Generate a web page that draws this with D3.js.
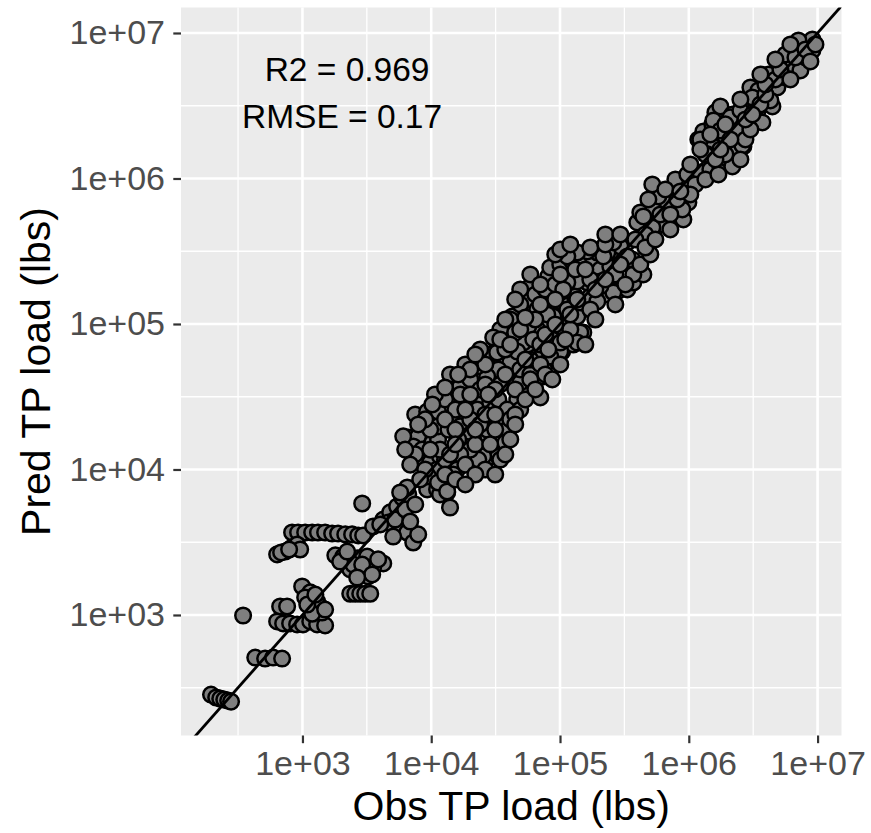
<!DOCTYPE html>
<html>
<head>
<meta charset="utf-8">
<script src="https://cdn.jsdelivr.net/npm/d3@7/dist/d3.min.js"></script>
<style>
  body { margin: 0; background: #fff; }
  svg { display: block; }
  text { font-family: "Liberation Sans", Arial, Helvetica, sans-serif; }
</style>
</head>
<body>
<script>
const obsLoad = [
  195, 214, 230, 247, 265, 279, 430, 513, 592, 695,
  346, 671, 760, 636, 708, 802, 909, 1010, 1150, 1300,
  1500, 995, 1150, 1050, 1300, 1370, 1420, 1190, 2350, 2570,
  2810, 3070, 3360, 1800, 2070, 2660, 3180, 4240, 2350, 2960,
  3240, 3540, 2480, 831, 925, 1050, 1190, 1320, 1500, 1700,
  1890, 2150, 2430, 2710, 2960, 636, 734, 831, 909, 960,
  2910, 3540, 4240, 4800, 4630, 5440, 5950, 6630, 5740, 6510,
  7250, 5070, 9300, 11100, 13300, 14000, 11700, 7510, 9300, 11300,
  6630, 7920, 7250, 8510, 10200, 11300, 8210, 9820, 11700, 11100,
  14600, 15900, 11300, 13600, 14600, 14600, 16800, 17700, 22800, 19000,
  16800, 20100, 24000, 18400, 27700, 32500, 28700, 33200, 25300, 23200,
  38900, 37600, 27200, 22800, 28700, 33200, 46600, 38900, 70300, 58800,
  74100, 49100, 41100, 33200, 27200, 22800, 28700, 31400, 42600, 46600,
  55700, 66600, 79600, 95200, 104000, 84000, 126800, 124500, 151600, 113900,
  88700, 79600, 66600, 56700, 55700, 46600, 42600, 56700, 58800, 79600,
  66600, 100500, 113900, 136200, 143700, 131500, 171900, 162900, 136200, 113900,
  100500, 81100, 84000, 100500, 124500, 151600, 181300, 205600, 245800, 259400,
  205600, 232900, 278500, 333100, 370900, 351600, 294000, 333100, 268900, 245800,
  194800, 162900, 136200, 113900, 259400, 194800, 9480, 11300, 14800, 6510,
  6060, 13300, 5740, 12800, 15400, 20100, 24000, 16200, 20100, 26300,
  34400, 41100, 49100, 34400, 20100, 24000, 16800, 12800, 9820, 10700,
  14000, 18400, 24000, 34400, 41100, 49100, 64300, 76900, 91900, 49100,
  58800, 51800, 100500, 88700, 143700, 44900, 79600, 100500, 120200, 136200,
  100500, 62000, 46600, 32500, 30300, 58800, 84000, 106000, 171900, 136200,
  443600, 370900, 268900, 205600, 502800, 398400, 634400, 420500, 530500, 681300,
  364300, 294000, 232900, 520900, 907300, 992400, 891000, 814700, 580200, 520900,
  443600, 786700, 974400, 1230000, 1471000, 1759000, 2030000, 2220000, 2654000, 2384000,
  1924000, 1552000, 1394000, 1186000, 1298000, 1524000, 1609000, 1759000, 2180000, 2302000,
  2851000, 3409000, 3727000, 4458000, 2180000, 1230000, 1346000, 1552000, 1759000, 2180000,
  2607000, 2104000, 2516000, 3292000, 3009000, 3472000, 4152000, 4875000, 5630000, 4966000,
  6376000, 7360000, 6492000, 7765000, 9117000, 7102000, 9117000, 4303000, 3117000, 259400,
  333100, 216900, 5630000, 8050000, 91900,
  8980, 12800, 15400, 11700, 14000, 22000, 28700, 31400, 26300, 18400,
  16800, 20100, 26300, 31400, 37600, 44900, 53800, 58800, 70300, 53800,
  37600, 26300, 20100, 34400, 41100, 49100, 70300, 76900, 64300, 91900,
  109900, 120200, 70300, 91900, 49100, 58800, 70300, 100500, 131500, 157200,
  188100, 224900, 294000, 420500, 502800, 100500, 120200, 171900, 224900, 321600,
  268900, 171900, 188100, 157200, 76900, 44900, 31400, 22000, 15400, 9820,
  7510, 6870, 8980, 12800, 18400, 22000, 31400, 37600, 41100, 44900,
  15400, 18400, 8210, 6280, 7920, 10200, 12800, 16200, 27700, 22000,
  37600, 44900, 53800, 81100, 100500, 64300, 87100,
  1125000, 1346000, 1698000, 1924000, 1609000, 2753000, 3009000, 1924000, 2753000, 3598000,
  3936000, 2516000, 4708000, 3936000, 5146000, 6154000, 6733000, 8050000, 9627000, 8800000,
  6154000, 4708000, 3598000, 3117000, 2104000, 1471000, 1230000, 1028000, 1759000, 2516000,
  601300, 719100, 485300, 1028000, 657800, 860000, 460000, 719100, 224900, 294000,
  384700, 460000, 550100,
  1963, 2224, 2910, 3870, 3480, 2660, 1090, 1260, 1500, 683,
  788, 4020, 5250, 6280, 7510, 7920, 6870
]
const predLoad = [
  284, 271, 266, 262, 258, 254, 510, 502, 510, 502,
  992, 1144, 1144, 903, 875, 875, 861, 861, 903, 861,
  848, 1570, 1430, 1320, 1240, 1140, 1040, 1020, 1400, 1400,
  1400, 1400, 1400, 2570, 2520, 2450, 2520, 2260, 2060, 1960,
  1840, 2120, 2220, 3690, 3690, 3690, 3690, 3690, 3690, 3630,
  3630, 3580, 3580, 3520, 3520, 2610, 2730, 2910, 3050, 2820,
  5840, 4060, 4530, 5070, 4320, 5570, 6420, 6740, 3870, 3690,
  3150, 3460, 7290, 7290, 6950, 5480, 6740, 23900, 25000, 25000,
  16600, 16900, 14400, 13700, 15300, 16100, 11700, 11200, 12300, 10000,
  10300, 10000, 19800, 18800, 23100, 34400, 37200, 28900, 29300, 22800,
  19800, 17400, 15300, 14400, 16900, 21000, 12300, 12300, 12300, 11700,
  18800, 15300, 18800, 25800, 28900, 30300, 30300, 25800, 31300, 35500,
  43600, 39600, 54400, 48700, 43600, 51100, 61700, 78300, 87400, 78300,
  70100, 59800, 54400, 55300, 64700, 74600, 72300, 94600, 87400, 107400,
  112600, 96100, 91700, 96100, 120000, 104100, 112600, 147400, 181100, 147400,
  125800, 142800, 125800, 112600, 140600, 154600, 154600, 192900, 196000, 192900,
  164700, 212200, 244600, 256500, 269000, 286600, 277600, 237000, 248500, 212200,
  196000, 159600, 167300, 172700, 192900, 264700, 300500, 363300, 325200, 310100,
  310100, 315100, 310100, 291100, 164700, 142800, 8950, 8140, 9240, 7520,
  16900, 7060, 6950, 30300, 25800, 22100, 20400, 16100, 13700, 10000,
  11700, 22100, 25800, 38400, 41600, 35500, 12700, 11700, 18800, 32800,
  45000, 52700, 66800, 91700, 107400, 136200, 159600, 172700, 186900, 48700,
  45000, 74600, 64700, 82100, 87400, 87400, 116300, 96100, 91700, 74600,
  74600, 78300, 64700, 63700, 80800, 57000, 59800, 172700, 202300, 147400,
  219000, 219000, 219000, 181100, 446300, 498600, 483200, 584200, 612600, 684300,
  277600, 341100, 310100, 460800, 522900, 684300, 612600, 717600, 752600, 910000,
  548400, 984800, 1066000, 1100000, 1154000, 1210000, 1352000, 1584000, 1661000, 1855000,
  1769000, 1661000, 1464000, 1855000, 2105000, 2353000, 2845000, 3128000, 2756000, 2173000,
  2983000, 2890000, 2428000, 3128000, 1210000, 1855000, 1464000, 2506000, 2139000, 1559000,
  1687000, 2629000, 2936000, 2983000, 4225000, 4029000, 5190000, 4225000, 4950000, 6477000,
  6080000, 5529000, 7588000, 8345000, 9031000, 8889000, 7588000, 3439000, 3607000, 363300,
  291100, 291100, 7123000, 6793000, 300500,
  22100, 22100, 18800, 13700, 12700, 14900, 14900, 18800, 23900, 25800,
  32800, 32800, 38400, 35500, 45000, 35500, 30300, 41600, 52700, 57000,
  66800, 52700, 48700, 78300, 72300, 91700, 72300, 84700, 107400, 99200,
  78300, 116300, 136200, 147400, 172700, 219000, 186900, 219000, 237000, 237000,
  172700, 202300, 256500, 256500, 300500, 325200, 352000, 335700, 352000, 186900,
  136200, 125800, 107400, 72300, 45000, 23900, 23900, 18800, 14900, 13700,
  12700, 10800, 10000, 9240, 10800, 9240, 9240, 12700, 16100, 20400,
  8540, 7890, 8540, 13700, 20400, 28000, 36600, 45000, 32800, 61700,
  107400, 147400, 110900, 66800, 52700, 35500, 41600,
  910000, 985000, 1066000, 1464000, 1352000, 1855000, 2173000, 2353000, 2546000, 3229000,
  3782000, 3494000, 4795000, 4431000, 5617000, 4795000, 6793000, 7709000, 8345000, 6375000,
  8345000, 6580000, 5190000, 2756000, 1855000, 2008000, 1584000, 1249000, 1584000, 1352000,
  566000, 566000, 717600, 776800, 840700, 814600, 412400, 446300, 412400, 412400,
  381000, 335700, 381000,
  2330, 2730, 2220, 2410, 1900, 1810, 1180, 1380, 1090, 2690,
  2820, 4190, 4530, 5310, 5750, 3580, 4390
]

const tickValues = [1e3, 1e4, 1e5, 1e6, 1e7]
const tickLabels = ['1e+03', '1e+04', '1e+05', '1e+06', '1e+07']
const minorValues = [316.2, 3162, 31623, 316228, 3162278]
const xDomain = [114, 1.534e7]
const yDomain = [148.5, 1.497e7]
const oneToOne = [100, 2e7]

const annLabels = ['R2 = 0.969', 'RMSE = 0.17']
const annObs = [2220, 2030]
const annPred = [5.7e6, 2.67e6]

const W = 871
const H = 833
const padL = 181
const padR = 841.5
const padT = 7.5
const padB = 735.5

const svg = d3.select('body')
  .append('svg')
  .attr('width', W)
  .attr('height', H)

const x = d3.scaleLog().domain(xDomain).range([padL, padR])
const y = d3.scaleLog().domain(yDomain).range([padB, padT])

// panel background
svg.append('rect')
  .attr('x', padL)
  .attr('y', padT)
  .attr('width', padR - padL)
  .attr('height', padB - padT)
  .style('fill', '#EBEBEB')

svg.append('clipPath')
  .attr('id', 'panel')
  .append('rect')
  .attr('x', padL)
  .attr('y', padT)
  .attr('width', padR - padL)
  .attr('height', padB - padT)

const grid = svg.append('g')
// minor grid
grid.selectAll('.vmin')
  .data(minorValues.filter(d => d > xDomain[0] && d < xDomain[1]))
  .enter().append('line')
  .attr('x1', d => x(d)).attr('x2', d => x(d))
  .attr('y1', padT).attr('y2', padB)
  .style('stroke', '#fff').style('stroke-width', 1.3)
grid.selectAll('.hmin')
  .data(minorValues.filter(d => d > yDomain[0] && d < yDomain[1]))
  .enter().append('line')
  .attr('y1', d => y(d)).attr('y2', d => y(d))
  .attr('x1', padL).attr('x2', padR)
  .style('stroke', '#fff').style('stroke-width', 1.3)
// major grid
grid.selectAll('.vmaj')
  .data(tickValues)
  .enter().append('line')
  .attr('x1', d => x(d)).attr('x2', d => x(d))
  .attr('y1', padT).attr('y2', padB)
  .style('stroke', '#fff').style('stroke-width', 2.6)
grid.selectAll('.hmaj')
  .data(tickValues)
  .enter().append('line')
  .attr('y1', d => y(d)).attr('y2', d => y(d))
  .attr('x1', padL).attr('x2', padR)
  .style('stroke', '#fff').style('stroke-width', 2.6)

const plot = svg.append('g').attr('clip-path', 'url(#panel)')

plot.selectAll('circle')
  .data(obsLoad.map((d, i) => [d, predLoad[i]]))
  .enter()
  .append('circle')
  .attr('cx', d => x(d[0]))
  .attr('cy', d => y(d[1]))
  .attr('r', 7.8)
  .style('fill', '#7F7F7F')
  .style('stroke', '#000')
  .style('stroke-width', 2.5)

plot.append('path')
  .datum(oneToOne)
  .attr('d', d3.line().x(d => x(d)).y(d => y(d)))
  .style('fill', 'none')
  .style('stroke', '#000')
  .style('stroke-width', 2.8)

// annotations
svg.selectAll('.ann')
  .data(annLabels)
  .enter()
  .append('text')
  .attr('x', (d, i) => x(annObs[i]))
  .attr('y', (d, i) => y(annPred[i]))
  .attr('dy', '0.36em')
  .attr('text-anchor', 'middle')
  .style('font-size', '33.5px')
  .style('fill', '#000')
  .text(d => d)

// axes
const yAxis = svg.append('g')
  .attr('transform', `translate(${padL},0)`)
  .call(d3.axisLeft(y).tickValues(tickValues).tickFormat((d, i) => tickLabels[i]).tickSize(7.7).tickPadding(8.3))
const xAxis = svg.append('g')
  .attr('transform', `translate(0,${padB})`)
  .call(d3.axisBottom(x).tickValues(tickValues).tickFormat((d, i) => tickLabels[i]).tickSize(7.7).tickPadding(8))

for (const ax of [xAxis, yAxis]) {
  ax.select('.domain').remove()
  ax.selectAll('line').style('stroke', '#333').style('stroke-width', 2.2)
  ax.selectAll('text')
    .style('font-size', '34px')
    .style('fill', '#4D4D4D')
    .style('font-family', '"Liberation Sans", Arial, Helvetica, sans-serif')
}

svg.append('text')
  .attr('x', (padL + padR) / 2)
  .attr('y', 820)
  .attr('text-anchor', 'middle')
  .style('font-size', '41px')
  .text('Obs TP load (lbs)')

svg.append('text')
  .attr('transform', `translate(50,${(padT + padB) / 2}) rotate(-90)`)
  .attr('text-anchor', 'middle')
  .style('font-size', '41px')
  .text('Pred TP load (lbs)')
</script>
</body>
</html>
